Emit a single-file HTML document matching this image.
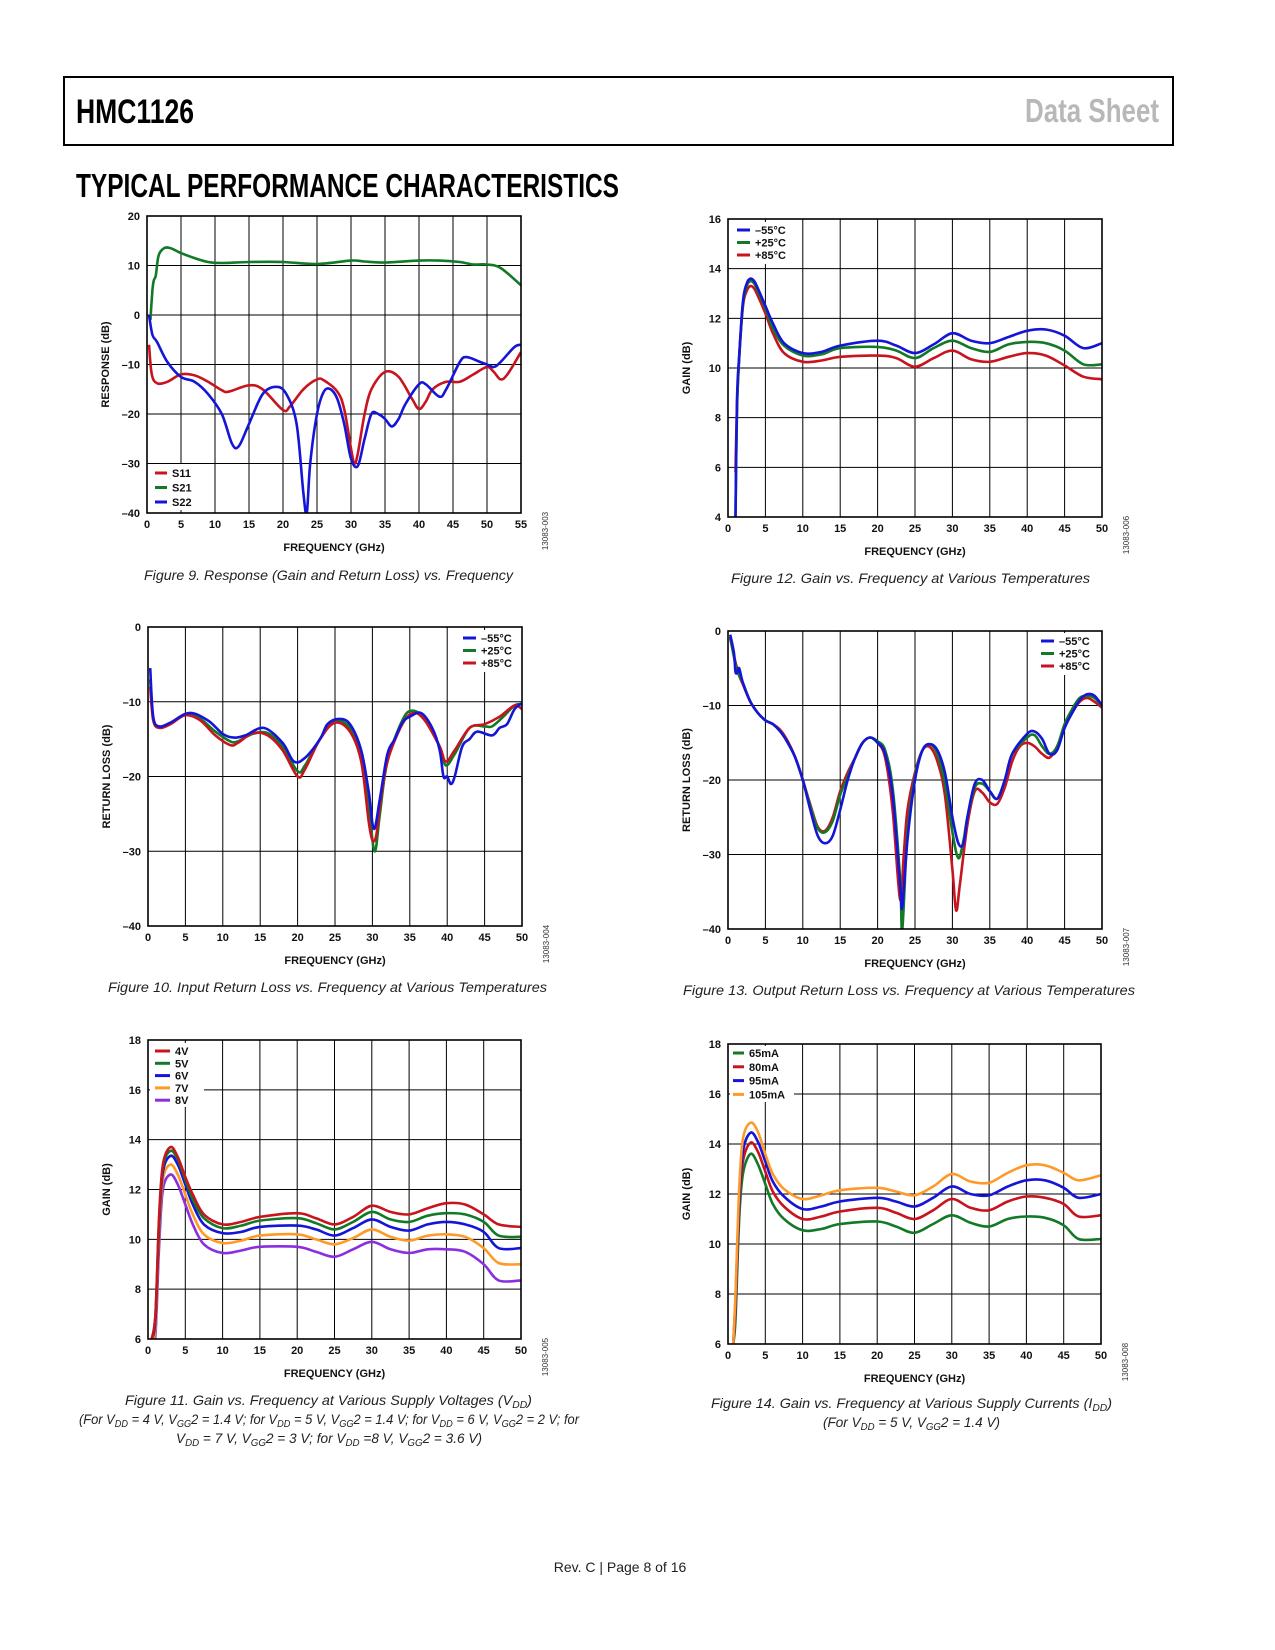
<!DOCTYPE html>
<html><head><meta charset="utf-8"><style>
html,body{margin:0;padding:0;background:#fff;}
svg{display:block;}
text{font-family:"Liberation Sans",sans-serif;}
.tk{font-size:11px;font-weight:bold;fill:#111;}
.ax{font-size:11px;font-weight:bold;fill:#111;}
.lg{font-size:11px;font-weight:bold;fill:#111;}
.cap{font-size:14px;font-style:italic;fill:#222;}
.side{font-size:8px;fill:#333;}
</style></head><body>
<svg id="page" width="1275" height="1650" viewBox="0 0 1275 1650" xmlns="http://www.w3.org/2000/svg">
<rect x="0" y="0" width="1275" height="1650" fill="#fff"/>
<rect x="64" y="77" width="1109" height="68" fill="none" stroke="#000" stroke-width="2"/>
<text x="76" y="123" textLength="118" lengthAdjust="spacingAndGlyphs" style="font-family:'Liberation Sans Narrow','Liberation Sans',sans-serif;font-weight:bold;font-size:34px;" fill="#000">HMC1126</text>
<text x="1025" y="122" textLength="134" lengthAdjust="spacingAndGlyphs" style="font-family:'Liberation Sans Narrow','Liberation Sans',sans-serif;font-weight:bold;font-size:33px;" fill="#b8b8b8">Data Sheet</text>
<text x="76" y="197" textLength="543" lengthAdjust="spacingAndGlyphs" style="font-family:'Liberation Sans Narrow','Liberation Sans',sans-serif;font-weight:bold;font-size:33px;" fill="#000">TYPICAL PERFORMANCE CHARACTERISTICS</text>

<text class="cap" x="144" y="580" textLength="369" lengthAdjust="spacingAndGlyphs">Figure 9. Response (Gain and Return Loss) vs. Frequency</text>
<text class="cap" x="731" y="583" textLength="359" lengthAdjust="spacingAndGlyphs">Figure 12. Gain vs. Frequency at Various Temperatures</text>
<text class="cap" x="108" y="992" textLength="439" lengthAdjust="spacingAndGlyphs">Figure 10. Input Return Loss vs. Frequency at Various Temperatures</text>
<text class="cap" x="683" y="995" textLength="452" lengthAdjust="spacingAndGlyphs">Figure 13. Output Return Loss vs. Frequency at Various Temperatures</text>
<text class="cap" x="125" y="1405" textLength="407" lengthAdjust="spacingAndGlyphs">Figure 11. Gain vs. Frequency at Various Supply Voltages (V<tspan font-size="10" dy="3">DD</tspan><tspan dy="-3">)</tspan></text>
<text class="cap" x="79" y="1424" textLength="500" lengthAdjust="spacingAndGlyphs">(For V<tspan font-size="10" dy="3">DD</tspan><tspan dy="-3"> = 4 V, V</tspan><tspan font-size="10" dy="3">GG</tspan><tspan dy="-3">2 = 1.4 V; for V</tspan><tspan font-size="10" dy="3">DD</tspan><tspan dy="-3"> = 5 V, V</tspan><tspan font-size="10" dy="3">GG</tspan><tspan dy="-3">2 = 1.4 V; for V</tspan><tspan font-size="10" dy="3">DD</tspan><tspan dy="-3"> = 6 V, V</tspan><tspan font-size="10" dy="3">GG</tspan><tspan dy="-3">2 = 2 V; for</tspan></text>
<text class="cap" x="176" y="1443" textLength="306" lengthAdjust="spacingAndGlyphs">V<tspan font-size="10" dy="3">DD</tspan><tspan dy="-3"> = 7 V, V</tspan><tspan font-size="10" dy="3">GG</tspan><tspan dy="-3">2 = 3 V; for V</tspan><tspan font-size="10" dy="3">DD</tspan><tspan dy="-3"> =8 V, V</tspan><tspan font-size="10" dy="3">GG</tspan><tspan dy="-3">2 = 3.6 V)</tspan></text>
<text class="cap" x="711" y="1408" textLength="401" lengthAdjust="spacingAndGlyphs">Figure 14. Gain vs. Frequency at Various Supply Currents (I<tspan font-size="10" dy="3">DD</tspan><tspan dy="-3">)</tspan></text>
<text class="cap" x="823" y="1427" textLength="177" lengthAdjust="spacingAndGlyphs">(For V<tspan font-size="10" dy="3">DD</tspan><tspan dy="-3"> = 5 V, V</tspan><tspan font-size="10" dy="3">GG</tspan><tspan dy="-3">2 = 1.4 V)</tspan></text>
<text x="620" y="1572" text-anchor="middle" style="font-size:14px;" fill="#222">Rev. C | Page 8 of 16</text>
<g id="charts"></g>
</svg>
<script>
// ---- Figure 9 ----
const f9S21 = [0.5,0.8,1,1.3,1.7,2.5,3.5,5,7,9,11,15,20,25,30,32,35,40,43,46,48,50,52,55];
const v9S21 = [-1,5,7,8,12,13.5,13.5,12.5,11.5,10.7,10.5,10.7,10.7,10.3,11,10.8,10.6,11,11,10.7,10.2,10.2,9.5,6];
const f9S11 = [0.3,0.7,1.5,3,5,7,9,11,12,15,17,20,21,23,25,26,28,29,30,30.5,31,32,33,35,37,39,40,41,42,44,46,48,50,51,52,53,55];
const v9S11 = [-6,-12,-13.8,-13.5,-12,-12.2,-13.5,-15.2,-15.5,-14.2,-15,-19.2,-18.5,-15,-13,-13.2,-15.5,-19,-27,-30,-28,-20,-15,-11.5,-12.5,-17,-19,-17.5,-15,-13.5,-13.5,-12,-10.5,-11.5,-13,-12,-7.5];
const f9S22 = [0.3,0.8,1.5,3,5,7,9,11,12.5,13.5,15,17,19,20.5,22,23,23.5,24,25,26,27,28,29,30,31,32,33,34,35,36,37,38,40,41,43,44,46,47,49,50,51,52,54,55];
const v9S22 = [0,-4,-5.5,-9.5,-12.5,-13.5,-16,-20,-26,-26.5,-22,-16,-14.5,-16,-22,-36,-40,-30,-20,-15.5,-15,-17,-22,-29,-30.5,-25,-20,-20,-21,-22.5,-21,-18,-14,-14,-16.5,-15,-9.5,-8.5,-9.5,-10,-10.5,-9.5,-6.5,-6];
const ticks9X = ["0","5","10","15","20","25","30","35","40","45","50","55"];
const ticks9Y = ["20","10","0","–10","–20","–30","–40"];

// ---- Figure 10 ----
const f10Red = [0.3,0.7,1.5,3,5,7,9,11,12,14,16,18,20,21,23,25,27,28.5,29.5,30,30.5,31,32,34,35.5,37,39,39.8,41,43,45,47,49,50];
const v10Red = [-8,-12.5,-13.5,-13,-11.8,-12.5,-14.5,-15.8,-15.5,-14.2,-14.5,-16.5,-20,-19,-15,-12.8,-14,-18,-26,-28.5,-28,-24,-18,-13,-11.5,-12.5,-16,-18,-16.5,-13.5,-13,-12,-10.5,-11];
const f10Green = [0.3,0.7,1.5,3,5,7,9,11,12,14,16,18,20,21,23,25,27,28.5,29.5,30.3,31,32,34,35.3,37,39,39.8,41,43,45,46,47.5,49,50];
const v10Green = [-7,-12.3,-13.4,-12.9,-11.7,-12.3,-14,-15.3,-15.3,-14.3,-14.2,-16,-19.3,-18.5,-15,-12.6,-13.5,-17.5,-24,-30,-25,-18,-12.5,-11.2,-12.3,-16,-18.5,-17,-13.5,-13.3,-13.3,-12,-10.5,-10.3];
const f10Blue = [0.3,0.7,1.5,3,5.5,8,10,11.5,13,15.5,18,19.5,21,23,24,25.5,27,28.5,29.5,30.2,31,32,33,34,35,36.5,38,39,39.5,40,40.5,41,42,43,44,46,47,48,49,50];
const v10Blue = [-5.5,-12,-13.3,-12.8,-11.5,-12.5,-14.3,-14.8,-14.5,-13.5,-15.5,-18,-17.5,-15,-13,-12.3,-13,-16.5,-22,-27,-23,-17,-15,-12.8,-12,-11.5,-13.5,-16.5,-20,-20,-21,-20,-16,-15,-14,-14.5,-13.5,-13,-11,-10.2];
const ticks10X = ["0","5","10","15","20","25","30","35","40","45","50"];
const ticks10Y = ["0","–10","–20","–30","–40"];

// ---- Figure 11 ----
const f11 = [0.5,1,1.5,2,3,4,5,6,7.5,10,12.5,15,20,22.5,25,27.5,30,32.5,35,37.5,40,42.5,45,47,50];
const v11_4V = [6,7,11,13,13.7,13.3,12.5,11.8,11,10.6,10.7,10.9,11.05,10.85,10.6,10.9,11.35,11.1,11,11.25,11.45,11.4,11,10.6,10.5];
const v11_5V = [6,7,10.8,12.9,13.55,13.2,12.4,11.6,10.85,10.45,10.55,10.75,10.85,10.65,10.4,10.7,11.1,10.8,10.7,10.95,11.05,11.0,10.7,10.15,10.1];
const v11_6V = [6,6.8,10.6,12.7,13.35,13.0,12.2,11.4,10.6,10.25,10.3,10.5,10.55,10.4,10.15,10.45,10.8,10.5,10.35,10.6,10.7,10.6,10.3,9.65,9.65];
const v11_7V = [6,6.5,10.3,12.4,13.0,12.6,11.8,11.0,10.2,9.85,9.95,10.15,10.2,10.0,9.8,10.05,10.4,10.1,9.95,10.15,10.2,10.1,9.65,9.05,9.0];
const v11_8V = [6,6.2,9.8,12.0,12.6,12.2,11.4,10.6,9.8,9.45,9.55,9.7,9.7,9.5,9.3,9.6,9.9,9.6,9.45,9.6,9.6,9.5,9.0,8.35,8.35];
const ticks11X = ["0","5","10","15","20","25","30","35","40","45","50"];
const ticks11Y = ["18","16","14","12","10","8","6"];

// ---- Figure 12 ----
const f12 = [1,1.2,1.5,2,2.5,3,3.5,4,5,6,7.5,10,12.5,15,20,22.5,25,27.5,30,32.5,35,37.5,40,42.5,45,47.5,50];
const v12Cold = [4,8.7,10.5,12.7,13.4,13.6,13.5,13.2,12.5,11.8,11,10.6,10.65,10.9,11.1,10.9,10.6,10.95,11.4,11.1,11.0,11.25,11.5,11.55,11.3,10.8,11.0];
const v12Room = [4,8.3,10.4,12.6,13.3,13.5,13.4,13.1,12.4,11.6,10.9,10.5,10.55,10.8,10.85,10.7,10.4,10.8,11.1,10.8,10.65,10.95,11.05,11.0,10.7,10.15,10.15];
const v12Hot = [5.8,8.5,10.4,12.5,13.1,13.3,13.2,12.9,12.2,11.4,10.6,10.25,10.3,10.45,10.5,10.4,10.05,10.4,10.7,10.35,10.25,10.45,10.6,10.5,10.1,9.65,9.55];
const ticks12X = ["0","5","10","15","20","25","30","35","40","45","50"];
const ticks12Y = ["16","14","12","10","8","6","4"];

// ---- Figure 13 ----
const f13Blue = [0.3,0.8,1,1.3,1.5,2,3,4,5,6,7,8,9,10,11,12,13,14,15,16,17,18,19,20,21,22,23,23.3,24,25,26,27,28,29,30,30.8,31.5,32,33,34,35,36,37,38,40,41,42,43,44,45,46,47,48,49,50];
const v13Blue = [-0.5,-3,-5.5,-5.5,-5,-7,-9.5,-11,-12,-12.5,-13.5,-15,-17,-20,-24,-27.5,-28.5,-27.5,-24,-20,-17,-15,-14.3,-15,-16.5,-22,-34,-37,-28,-20,-16,-15.2,-16,-19,-25,-28.5,-28.5,-25,-20.5,-20,-21.5,-22.5,-20,-16.5,-13.8,-13.5,-14.5,-16.5,-16,-13,-11,-9.3,-8.5,-8.7,-10];
const f13Green = [0.3,1,1.5,2,3,4,5,6,7,8,9,10,11,12,13,14,15,16,17,18,19,20,21,22,23,23.3,24,25,26,27,28,29,30,30.8,31.5,32,33,34,35,36,37,38,40,41,42,43,44,45,46,47,48,49,50];
const v13Green = [-0.8,-4.5,-6,-7,-9.5,-11,-12,-12.5,-13.5,-15,-17,-20,-23.5,-26.5,-27,-25.5,-22,-19.5,-17,-15,-14.3,-14.8,-16,-21,-33,-40,-27,-19.5,-16,-15.2,-16.5,-20.5,-27,-30.5,-28,-25,-21,-20.5,-21.5,-22.5,-20,-16.5,-14.3,-14,-15.5,-16.5,-15.5,-12.5,-10.5,-9,-8.7,-9,-10];
const f13Red = [0.3,1,1.5,2,3,4,5,6,7,8,9,10,11,12,13,14,15,16,17,18,19,20,21,22,23,23.5,24,25,26,27,28,29,30,30.5,31,32,33,34,35,36,37,38,39,40,41,42,43,44,45,46,47,48,49,50];
const v13Red = [-1,-4.2,-6,-7.2,-9.5,-11,-12,-12.5,-13.3,-14.8,-17,-20,-23.3,-26.3,-26.8,-25,-21.5,-19,-17,-15,-14.3,-15,-17,-24,-36,-30,-24,-19,-16,-15.6,-17.5,-22,-32,-37.5,-34,-26,-21.5,-21.7,-23,-23.2,-21,-17.5,-15.5,-15,-15.5,-16.5,-17,-15.5,-13,-11,-9.5,-9,-9.5,-10.3];
const ticks13X = ["0","5","10","15","20","25","30","35","40","45","50"];
const ticks13Y = ["0","–10","–20","–30","–40"];

// ---- Figure 14 ----
const f14 = [0.7,1,1.5,2,3,4,5,6,7.5,10,12.5,15,20,22.5,25,27.5,30,32.5,35,37.5,40,42.5,45,47,50];
const v14_65 = [6,7,11,12.8,13.6,13.2,12.4,11.6,11,10.55,10.6,10.8,10.9,10.7,10.45,10.8,11.15,10.85,10.7,11.0,11.1,11.05,10.75,10.2,10.2];
const v14_80 = [6,7.5,11.5,13.3,14.05,13.7,12.9,12.1,11.5,11.0,11.1,11.3,11.45,11.25,11.0,11.35,11.8,11.45,11.35,11.7,11.9,11.85,11.6,11.1,11.15];
const v14_95 = [6,7.8,11.8,13.7,14.45,14.1,13.3,12.5,11.9,11.4,11.5,11.7,11.85,11.7,11.5,11.85,12.3,12.0,11.95,12.3,12.55,12.55,12.25,11.85,12.0];
const v14_105 = [6,8,12.2,14.2,14.85,14.5,13.6,12.8,12.2,11.8,11.95,12.15,12.25,12.1,11.95,12.3,12.8,12.5,12.45,12.85,13.15,13.15,12.85,12.55,12.75];
const ticks14X = ["0","5","10","15","20","25","30","35","40","45","50"];
const ticks14Y = ["18","16","14","12","10","8","6"];

const RED="#c8141e", GREEN="#127a26", BLUE="#1515d8", ORANGE="#ff9a28", PURPLE="#8a2fe0";
const NS="http://www.w3.org/2000/svg";
const root=document.getElementById('charts');
function mk(tag,attrs,parent){const e=document.createElementNS(NS,tag);for(const k in attrs)e.setAttribute(k,attrs[k]);(parent||root).appendChild(e);return e;}
function smooth(pts){
  let d="M"+pts[0][0].toFixed(1)+","+pts[0][1].toFixed(1);
  for(let i=0;i<pts.length-1;i++){
    const p0=pts[Math.max(0,i-1)],p1=pts[i],p2=pts[i+1],p3=pts[Math.min(pts.length-1,i+2)];
    const c1=[p1[0]+(p2[0]-p0[0])/6,p1[1]+(p2[1]-p0[1])/6];
    const c2=[p2[0]-(p3[0]-p1[0])/6,p2[1]-(p3[1]-p1[1])/6];
    d+="C"+c1[0].toFixed(1)+","+c1[1].toFixed(1)+" "+c2[0].toFixed(1)+","+c2[1].toFixed(1)+" "+p2[0].toFixed(1)+","+p2[1].toFixed(1);
  }
  return d;
}
let cid=0;
function chart(c){
  const g=mk('g',{});
  
  
  const W=c.r-c.l,H=c.b-c.t;
  const xs=v=>c.l+(v-c.xmin)/(c.xmax-c.xmin)*W;
  const ys=v=>c.b-(v-c.ymin)/(c.ymax-c.ymin)*H;
  // grid
  const nx=c.xt.length, ny=c.yt.length;
  for(let i=0;i<nx;i++){
    const x=c.l+i*W/(nx-1);
    const gl=mk('line',{x1:x,y1:c.t,x2:x,y2:c.b,stroke:"#000","stroke-width":1},g);
    
    
    const t=mk('text',{x:x,y:c.b+15,"text-anchor":"middle",class:"tk"},g);t.textContent=c.xt[i];
    
    
  }
  for(let i=0;i<ny;i++){
    const y=c.t+i*H/(ny-1);
    const gl=mk('line',{x1:c.l,y1:y,x2:c.r,y2:y,stroke:"#000","stroke-width":1},g);
    
    
    const t=mk('text',{x:c.l-7,y:y+4,"text-anchor":"end",class:"tk"},g);t.textContent=c.yt[i];
    
    
  }
  const cp=mk('clipPath',{id:"cp"+(++cid)},g);
  mk('rect',{x:c.l,y:c.t,width:W,height:H},cp);
  // legend background
  const L=c.leg;
  const lb=mk('rect',{x:L.bx,y:L.by,width:L.bw,height:L.bh,fill:"#fff"},g);
  
  
  // series
  for(const s of c.series){
    const pts=s.f.map((f,i)=>[xs(f),ys(s.v[i])]);
    const p=mk('path',{d:smooth(pts),fill:"none",stroke:s.col,"stroke-width":2.6,"stroke-linejoin":"round","clip-path":"url(#cp"+cid+")"},g);
    
    
  }
  // legend entries
  c.series.slice().sort((a,b)=>a.li-b.li).forEach((s,i)=>{
    const y=L.y0+i*L.dy;
    const ln=mk('line',{x1:L.x,y1:y,x2:L.x+L.lw,y2:y,stroke:s.col,"stroke-width":3},g);
    
    
    const t=mk('text',{x:L.x+L.lw+5,y:y+4,class:"lg"},g);t.textContent=s.label;
    
    
  });
  const fr=mk('rect',{x:c.l,y:c.t,width:W,height:H,fill:"none",stroke:"#000","stroke-width":1.6},g);
  
  
  const xt=mk('text',{x:(c.l+c.r)/2,y:c.b+38,"text-anchor":"middle",class:"ax"},g);xt.textContent="FREQUENCY (GHz)";
  
  
  const yx=c.l-38, yy=(c.t+c.b)/2;
  const yt=mk('text',{x:yx,y:yy,"text-anchor":"middle",class:"ax",transform:"rotate(-90 "+yx+" "+yy+")"},g);yt.textContent=c.ytitle;
  
  
  const sx=c.r+27, sy=c.b+18;
  const st=mk('text',{x:sx,y:sy,"text-anchor":"middle",class:"side",transform:"rotate(-90 "+sx+" "+sy+")"},g);st.textContent=c.code;
  
  
}
const tempLeg=(x,y0,bx,by)=>({x:x,y0:y0,dy:12.5,lw:13,bx:bx,by:by,bw:62,bh:42});
chart({name:"chart-fig9",l:147,t:216,r:521,b:513,xmin:0,xmax:55,ymin:-40,ymax:20,xt:ticks9X,yt:ticks9Y,ytitle:"RESPONSE (dB)",code:"13083-003",
  leg:{x:155,y0:473,dy:14.5,lw:12,bx:151,by:464,bw:52,bh:46},
  series:[{key:"s21",label:"S21",col:GREEN,f:f9S21,v:v9S21,li:1},{key:"s11",label:"S11",col:RED,f:f9S11,v:v9S11,li:0},{key:"s22",label:"S22",col:BLUE,f:f9S22,v:v9S22,li:2}]});
chart({name:"chart-fig12",l:728,t:219,r:1102,b:517,xmin:0,xmax:50,ymin:4,ymax:16,xt:ticks12X,yt:ticks12Y,ytitle:"GAIN (dB)",code:"13083-006",
  leg:tempLeg(737,230,732,222),
  series:[{key:"plus85c",label:"+85°C",col:RED,f:f12,v:v12Hot,li:2},{key:"plus25c",label:"+25°C",col:GREEN,f:f12,v:v12Room,li:1},{key:"minus55c",label:"–55°C",col:BLUE,f:f12,v:v12Cold,li:0}]});
chart({name:"chart-fig10",l:148,t:627,r:522,b:926,xmin:0,xmax:50,ymin:-40,ymax:0,xt:ticks10X,yt:ticks10Y,ytitle:"RETURN LOSS (dB)",code:"13083-004",
  leg:tempLeg(463,638,458,630),
  series:[{key:"plus25c",label:"+25°C",col:GREEN,f:f10Green,v:v10Green,li:1},{key:"plus85c",label:"+85°C",col:RED,f:f10Red,v:v10Red,li:2},{key:"minus55c",label:"–55°C",col:BLUE,f:f10Blue,v:v10Blue,li:0}]});
chart({name:"chart-fig13",l:728,t:631,r:1102,b:929,xmin:0,xmax:50,ymin:-40,ymax:0,xt:ticks13X,yt:ticks13Y,ytitle:"RETURN LOSS (dB)",code:"13083-007",
  leg:tempLeg(1041,641,1036,633),
  series:[{key:"plus85c",label:"+85°C",col:RED,f:f13Red,v:v13Red,li:2},{key:"plus25c",label:"+25°C",col:GREEN,f:f13Green,v:v13Green,li:1},{key:"minus55c",label:"–55°C",col:BLUE,f:f13Blue,v:v13Blue,li:0}]});
chart({name:"chart-fig11",l:148,t:1040,r:521,b:1339,xmin:0,xmax:50,ymin:6,ymax:18,xt:ticks11X,yt:ticks11Y,ytitle:"GAIN (dB)",code:"13083-005",
  leg:{x:155,y0:1051,dy:12.3,lw:15,bx:150,by:1043,bw:54,bh:64},
  series:[{key:"8v",label:"8V",col:PURPLE,f:f11,v:v11_8V,li:4},{key:"7v",label:"7V",col:ORANGE,f:f11,v:v11_7V,li:3},{key:"6v",label:"6V",col:BLUE,f:f11,v:v11_6V,li:2},{key:"5v",label:"5V",col:GREEN,f:f11,v:v11_5V,li:1},{key:"4v",label:"4V",col:RED,f:f11,v:v11_4V,li:0}]});
chart({name:"chart-fig14",l:728,t:1044,r:1101,b:1344,xmin:0,xmax:50,ymin:6,ymax:18,xt:ticks14X,yt:ticks14Y,ytitle:"GAIN (dB)",code:"13083-008",
  leg:{x:733,y0:1053,dy:13.8,lw:11,bx:730,by:1046,bw:64,bh:56},
  series:[{key:"65ma",label:"65mA",col:GREEN,f:f14,v:v14_65,li:0},{key:"80ma",label:"80mA",col:RED,f:f14,v:v14_80,li:1},{key:"95ma",label:"95mA",col:BLUE,f:f14,v:v14_95,li:2},{key:"105ma",label:"105mA",col:ORANGE,f:f14,v:v14_105,li:3}]});
</script>
</body></html>
